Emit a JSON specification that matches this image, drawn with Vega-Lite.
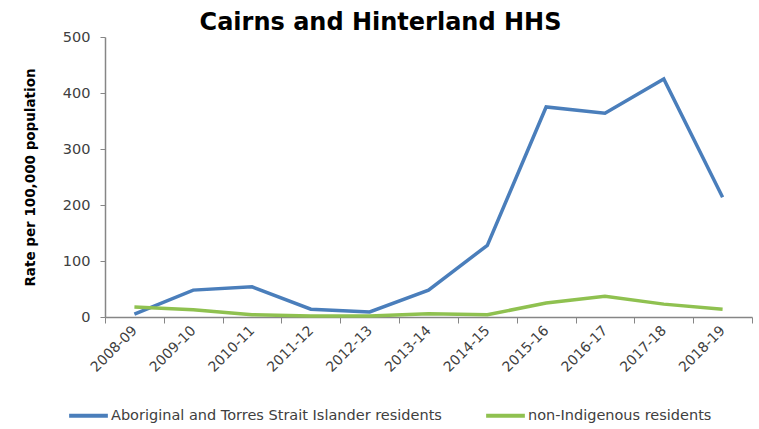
{
  "$schema": "https://vega.github.io/schema/vega-lite/v6.json",
  "width": 647,
  "height": 280,
  "autosize": "none",
  "padding": {"left": 105, "top": 37, "right": 7, "bottom": 112},
  "background": "white",
  "view": {"stroke": null},
  "title": {
    "text": "Cairns and Hinterland HHS",
    "font": "DejaVu Sans",
    "fontSize": 24,
    "fontWeight": "bold",
    "color": "#000000",
    "anchor": "middle",
    "frame": "group",
    "dx": -48,
    "dy": 14,
    "offset": 8
  },
  "data": {
    "values": [
      {"year": "2008-09", "series": "Aboriginal and Torres Strait Islander residents", "rate": 5},
      {"year": "2009-10", "series": "Aboriginal and Torres Strait Islander residents", "rate": 48},
      {"year": "2010-11", "series": "Aboriginal and Torres Strait Islander residents", "rate": 54},
      {"year": "2011-12", "series": "Aboriginal and Torres Strait Islander residents", "rate": 14},
      {"year": "2012-13", "series": "Aboriginal and Torres Strait Islander residents", "rate": 9},
      {"year": "2013-14", "series": "Aboriginal and Torres Strait Islander residents", "rate": 48},
      {"year": "2014-15", "series": "Aboriginal and Torres Strait Islander residents", "rate": 128},
      {"year": "2015-16", "series": "Aboriginal and Torres Strait Islander residents", "rate": 375},
      {"year": "2016-17", "series": "Aboriginal and Torres Strait Islander residents", "rate": 364},
      {"year": "2017-18", "series": "Aboriginal and Torres Strait Islander residents", "rate": 425},
      {"year": "2018-19", "series": "Aboriginal and Torres Strait Islander residents", "rate": 214},
      {"year": "2008-09", "series": "non-Indigenous residents", "rate": 18},
      {"year": "2009-10", "series": "non-Indigenous residents", "rate": 13},
      {"year": "2010-11", "series": "non-Indigenous residents", "rate": 4},
      {"year": "2011-12", "series": "non-Indigenous residents", "rate": 2},
      {"year": "2012-13", "series": "non-Indigenous residents", "rate": 2},
      {"year": "2013-14", "series": "non-Indigenous residents", "rate": 6},
      {"year": "2014-15", "series": "non-Indigenous residents", "rate": 4},
      {"year": "2015-16", "series": "non-Indigenous residents", "rate": 25},
      {"year": "2016-17", "series": "non-Indigenous residents", "rate": 37},
      {"year": "2017-18", "series": "non-Indigenous residents", "rate": 23},
      {"year": "2018-19", "series": "non-Indigenous residents", "rate": 14}
    ]
  },
  "mark": {"type": "line", "strokeWidth": 3.5, "strokeJoin": "miter"},
  "encoding": {
    "x": {
      "field": "year",
      "type": "nominal",
      "sort": null,
      "scale": {"paddingInner": 0, "paddingOuter": 0},
      "axis": {
        "title": null,
        "labelAngle": -45,
        "labelAlign": "right",
        "labelBaseline": "middle",
        "labelFont": "DejaVu Sans",
        "labelFontSize": 14,
        "labelColor": "#404040",
        "labelPadding": 5,
        "tickBand": "extent",
        "tickColor": "#868686",
        "tickSize": 6,
        "domainColor": "#868686",
        "domainWidth": 1.5,
        "grid": false
      }
    },
    "y": {
      "field": "rate",
      "type": "quantitative",
      "scale": {"domain": [0, 500], "nice": false},
      "axis": {
        "title": "Rate per 100,000 population",
        "titleFont": "DejaVu Sans",
        "titleFontSize": 13.5,
        "titleFontWeight": "bold",
        "titleColor": "#000000",
        "titlePadding": 25,
        "values": [0, 100, 200, 300, 400, 500],
        "labelFont": "DejaVu Sans",
        "labelFontSize": 14.5,
        "labelColor": "#404040",
        "labelPadding": 10,
        "tickColor": "#868686",
        "tickSize": 5,
        "domainColor": "#868686",
        "domainWidth": 1.5,
        "grid": false
      }
    },
    "color": {
      "field": "series",
      "type": "nominal",
      "sort": ["Aboriginal and Torres Strait Islander residents", "non-Indigenous residents"],
      "scale": {"range": ["#4a7ebb", "#8fc150"]},
      "legend": {
        "title": null,
        "orient": "none",
        "direction": "horizontal",
        "legendX": -38,
        "legendY": 357,
        "symbolType": "stroke",
        "symbolSize": 1500,
        "symbolStrokeWidth": 4,
        "labelFont": "DejaVu Sans",
        "labelFontSize": 14.5,
        "labelColor": "#404040",
        "labelOffset": 1,
        "columnPadding": 36,
        "labelLimit": 400
      }
    }
  }
}
